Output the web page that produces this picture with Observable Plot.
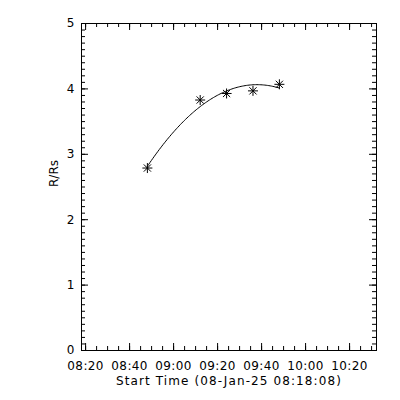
<!DOCTYPE html>
<html><head><meta charset="utf-8">
<script src="https://cdn.jsdelivr.net/npm/d3@7"></script>
<script src="https://cdn.jsdelivr.net/npm/@observablehq/plot@0.6"></script>
<style>body{margin:0;background:#fff} .xlab text{letter-spacing:1.1px} .xtl text{letter-spacing:0.4px}</style>
</head><body><div id="chart"></div>
<script>
// ---- data ----
const day = "2025-01-08";
const times = ["08:48:05", "09:12:05", "09:24:05", "09:36:05", "09:48:05"];
const heights = [2.79, 3.83, 3.93, 3.97, 4.07];
const xTickLabels = ["08:20", "08:40", "09:00", "09:20", "09:40", "10:00", "10:20"];
const yTickValues = [0, 1, 2, 3, 4, 5];
const xRange = ["08:18:08", "10:32:14"];
const xLabel = "Start Time (08-Jan-25 08:18:08)";
const yLabel = "R/Rs";

const toDate = s => new Date(`${day}T${s.length === 5 ? s + ":00" : s}Z`);
const pts = times.map((t, i) => ({t: toDate(t), h: heights[i]}));

// quadratic least-squares fit of height vs time (as in the original plot)
const t0 = d3.mean(pts, d => +d.t);
const u = pts.map(d => (+d.t - t0) / 60000);
const S = k => d3.sum(u, v => v ** k);
const SY = k => d3.sum(u, (v, i) => v ** k * heights[i]);
function solve3(A, b) {
  const M = A.map((r, i) => [...r, b[i]]);
  for (let i = 0; i < 3; i++) {
    for (let j = i + 1; j < 3; j++) {
      const f = M[j][i] / M[i][i];
      for (let k = i; k < 4; k++) M[j][k] -= f * M[i][k];
    }
  }
  const x = [0, 0, 0];
  for (let i = 2; i >= 0; i--) {
    let s = M[i][3];
    for (let k = i + 1; k < 3; k++) s -= M[i][k] * x[k];
    x[i] = s / M[i][i];
  }
  return x;
}
const [c0, c1, c2] = solve3(
  [[S(0), S(1), S(2)], [S(1), S(2), S(3)], [S(2), S(3), S(4)]],
  [SY(0), SY(1), SY(2)]
);
const tFirst = +pts[0].t, tLast = +pts[pts.length - 1].t;
const fit = d3.range(0, 101).map(k => {
  const t = tFirst + (tLast - tFirst) * k / 100;
  const v = (t - t0) / 60000;
  return {t: new Date(t), h: c0 + c1 * v + c2 * v * v};
});

// ---- layout ----
const W = 400, H = 400;
const mL = 81, mR = 24, mT = 23, mB = 50;
const fw = W - mL - mR, fh = H - mT - mB;
const majLen = 7, minLen = 4;

const xMajor = xTickLabels.map(toDate);
const xMinor = d3.utcMinute.every(5).range(toDate("08:20"), toDate("10:32"));
const yMinor = d3.range(0, 51).map(k => k / 10);

const star = {
  draw(ctx, size) {
    const r = Math.sqrt(size / Math.PI);
    const d = r * 0.72;
    ctx.moveTo(-r, 0); ctx.lineTo(r, 0);
    ctx.moveTo(0, -r); ctx.lineTo(0, r);
    ctx.moveTo(-d, -d); ctx.lineTo(d, d);
    ctx.moveTo(-d, d); ctx.lineTo(d, -d);
  }
};

const font = "DejaVu Sans, sans-serif";

const chart = Plot.plot({
  width: W, height: H,
  marginLeft: mL, marginRight: mR, marginTop: mT, marginBottom: mB,
  style: {fontFamily: font, fontSize: "12px", background: "white", color: "black"},
  x: {type: "utc", domain: xRange.map(toDate), label: null},
  y: {domain: [0, 5], label: null},
  marks: [
    Plot.frame({stroke: "black", strokeWidth: 1}),
    // inward ticks, all four sides
    Plot.tickX(xMinor, {x: d => d, insetTop: fh - minLen, stroke: "black"}),
    Plot.tickX(xMinor, {x: d => d, insetBottom: fh - minLen, stroke: "black"}),
    Plot.tickX(xMajor, {x: d => d, insetTop: fh - majLen, stroke: "black"}),
    Plot.tickX(xMajor, {x: d => d, insetBottom: fh - majLen, stroke: "black"}),
    Plot.tickY(yMinor, {y: d => d, insetRight: fw - minLen, stroke: "black"}),
    Plot.tickY(yMinor, {y: d => d, insetLeft: fw - minLen, stroke: "black"}),
    Plot.tickY(yTickValues, {y: d => d, insetRight: fw - majLen, stroke: "black"}),
    Plot.tickY(yTickValues, {y: d => d, insetLeft: fw - majLen, stroke: "black"}),
    // tick labels
    Plot.axisX(xMajor, {tickSize: 0, tickPadding: 11, tickFormat: d3.utcFormat("%H:%M"), label: null, fontSize: 12, className: "xtl"}),
    Plot.axisY(yTickValues, {tickSize: 0, tickPadding: 7, tickFormat: d3.format("d"), label: null, fontSize: 12}),
    // axis titles
    Plot.text([xLabel], {frameAnchor: "bottom", dy: 34, fontSize: 12, text: d => d, className: "xlab"}),
    Plot.text([yLabel], {frameAnchor: "left", dx: -27, rotate: -90, fontSize: 12, text: d => d}),
    // fit curve and data
    Plot.line(fit, {x: "t", y: "h", stroke: "black", strokeWidth: 1}),
    Plot.dot(pts, {x: "t", y: "h", symbol: star, r: 5, fill: "none", stroke: "black", strokeWidth: 1})
  ]
});
document.getElementById("chart").append(chart);
</script>
</body></html>
